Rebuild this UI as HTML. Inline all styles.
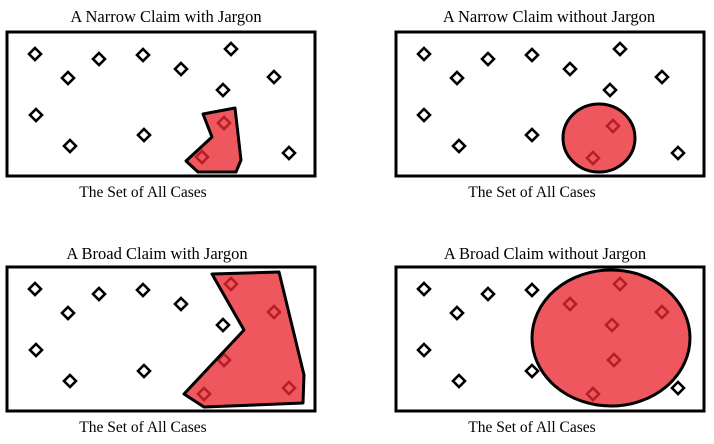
<!DOCTYPE html>
<html><head><style>body{margin:0;background:#fff}svg{display:block}</style></head><body>
<svg width="714" height="444" viewBox="0 0 714 444" xmlns="http://www.w3.org/2000/svg">
<defs>
<g id="d"><path d="M0,-6 L6,0 L0,6 L-6,0 Z" fill="none" stroke="#000" stroke-width="2.6"/></g>
</defs>
<g font-family="Liberation Serif, serif" text-anchor="middle" fill="#000">
<g font-size="16.5">
<text x="166" y="22">A Narrow Claim with Jargon</text>
<text x="549" y="22">A Narrow Claim without Jargon</text>
<text x="157" y="259">A Broad Claim with Jargon</text>
<text x="545" y="259">A Broad Claim without Jargon</text>
</g>
<g font-size="15.5">
<text x="143" y="197">The Set of All Cases</text>
<text x="532" y="197">The Set of All Cases</text>
<text x="143" y="432">The Set of All Cases</text>
<text x="532" y="432">The Set of All Cases</text>
</g>
</g>
<g fill="none" stroke="#000" stroke-width="3">
<rect x="7" y="32" width="308" height="144"/>
<rect x="396" y="32" width="308" height="144"/>
<rect x="7" y="267" width="308" height="144"/>
<rect x="396" y="267" width="308" height="144"/>
</g>
<g>
<use href="#d" x="35" y="54"/><use href="#d" x="68" y="78"/><use href="#d" x="99" y="59"/><use href="#d" x="143" y="55"/><use href="#d" x="181" y="69"/><use href="#d" x="231" y="49"/><use href="#d" x="274" y="77"/><use href="#d" x="223" y="90"/><use href="#d" x="36" y="115"/><use href="#d" x="70" y="146"/><use href="#d" x="144" y="135"/><use href="#d" x="289" y="153"/><use href="#d" x="224" y="123"/><use href="#d" x="202" y="157"/>
</g>
<polygon points="203,114 235,108 241,160 236,172 198,172 186,161 212,137" fill="rgb(235,40,50)" fill-opacity="0.78" stroke="#000" stroke-width="3" stroke-linejoin="round"/>
<g>
<use href="#d" x="424" y="54"/><use href="#d" x="457" y="78"/><use href="#d" x="488" y="59"/><use href="#d" x="532" y="55"/><use href="#d" x="570" y="69"/><use href="#d" x="620" y="49"/><use href="#d" x="662" y="77"/><use href="#d" x="610" y="90"/><use href="#d" x="424" y="115"/><use href="#d" x="459" y="146"/><use href="#d" x="532" y="135"/><use href="#d" x="678" y="153"/><use href="#d" x="613" y="126"/><use href="#d" x="593" y="158"/>
</g>
<ellipse cx="599" cy="138" rx="36" ry="34" fill="rgb(235,40,50)" fill-opacity="0.78" stroke="#000" stroke-width="3"/>
<g>
<use href="#d" x="35" y="289"/><use href="#d" x="68" y="313"/><use href="#d" x="99" y="294"/><use href="#d" x="143" y="290"/><use href="#d" x="181" y="304"/><use href="#d" x="223" y="325"/><use href="#d" x="36" y="350"/><use href="#d" x="70" y="381"/><use href="#d" x="144" y="371"/><use href="#d" x="231" y="284"/><use href="#d" x="274" y="312"/><use href="#d" x="224" y="360"/><use href="#d" x="289" y="388"/><use href="#d" x="204" y="394"/>
</g>
<polygon points="212,274 279,272 304,375 303,403 204,407 184,394 244,330" fill="rgb(235,40,50)" fill-opacity="0.78" stroke="#000" stroke-width="3" stroke-linejoin="round"/>
<g>
<use href="#d" x="424" y="289"/><use href="#d" x="457" y="313"/><use href="#d" x="488" y="294"/><use href="#d" x="532" y="290"/><use href="#d" x="570" y="304"/><use href="#d" x="620" y="284"/><use href="#d" x="662" y="312"/><use href="#d" x="612" y="325"/><use href="#d" x="424" y="350"/><use href="#d" x="459" y="381"/><use href="#d" x="532" y="371"/><use href="#d" x="678" y="388"/><use href="#d" x="614" y="360"/><use href="#d" x="593" y="394"/>
</g>
<ellipse cx="611" cy="338" rx="79" ry="68" fill="rgb(235,40,50)" fill-opacity="0.78" stroke="#000" stroke-width="3"/>
</svg>
</body></html>
